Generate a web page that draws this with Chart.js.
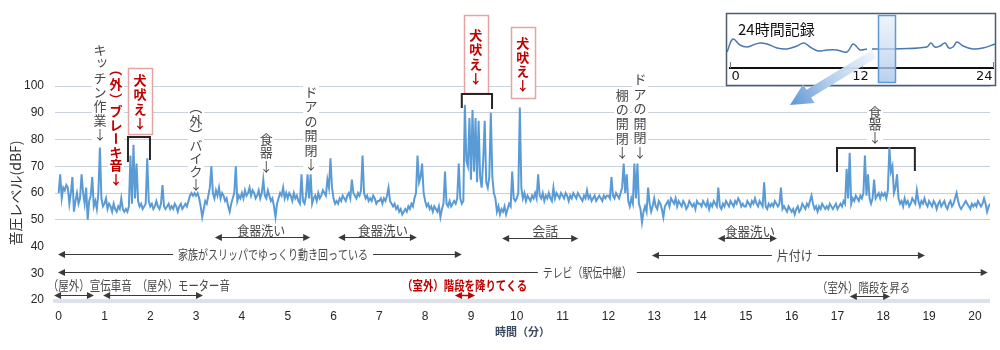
<!DOCTYPE html>
<html lang="ja">
<head>
<meta charset="utf-8">
<script src="https://cdn.jsdelivr.net/npm/chart.js@4.4.1/dist/chart.umd.min.js"></script>
<style>
  html, body { margin: 0; padding: 0; background: #fff; width: 1000px; height: 350px; overflow: hidden; }
  #wrap { position: relative; width: 1000px; height: 350px; }
  #main { position: absolute; left: 0; top: 0; }
  #day { position: absolute; left: 720px; top: 0; }
</style>
</head>
<body>
<div id="wrap">
  <canvas id="main" width="1000" height="350"></canvas>
  <canvas id="day" width="280" height="115"></canvas>
</div>
<script>
// Sound level readings, one every 2 seconds (30 per minute)
const SAMPLE_SECONDS = 2;
const levelDb = [
  // 0 min
  60, 67, 58, 62, 61, 63, 62, 56, 60, 66, 53, 57, 60, 56, 58, 67, 60, 56, 62, 50, 57, 59, 66, 55, 57, 54, 60, 77, 58, 55,
  // 1 min
  56, 58, 54, 56, 55, 53, 56, 54, 53, 55, 54, 58, 54, 53, 54, 53, 55, 74, 56, 78, 58, 71, 57, 55, 56, 54, 55, 56, 73, 57,
  // 2 min
  55, 56, 54, 55, 57, 55, 54, 56, 63, 55, 54, 55, 56, 54, 55, 54, 56, 55, 53, 55, 56, 54, 55, 56, 55, 57, 59, 60, 59, 60,
  // 3 min
  59, 60, 58, 55, 51, 54, 57, 56, 59, 62, 70, 60, 58, 61, 59, 62, 58, 60, 59, 57, 58, 55, 53, 56, 58, 60, 70, 57, 59, 58,
  // 4 min
  60, 58, 61, 59, 60, 62, 59, 61, 60, 58, 59, 61, 58, 60, 65, 59, 58, 61, 59, 57, 58, 55, 51, 56, 58, 60, 59, 62, 58, 60,
  // 5 min
  58, 60, 59, 57, 60, 58, 59, 57, 56, 67, 57, 56, 59, 67, 58, 67, 56, 58, 59, 57, 60, 58, 59, 61, 60, 59, 65, 62, 73, 62,
  // 6 min
  58, 56, 57, 56, 58, 57, 59, 58, 57, 59, 60, 58, 65, 60, 59, 58, 60, 59, 61, 74, 60, 58, 59, 57, 58, 57, 59, 58, 56, 57,
  // 7 min
  57, 58, 56, 58, 57, 59, 62, 57, 56, 55, 56, 54, 55, 53, 54, 52, 53, 54, 53, 55, 54, 56, 55, 58, 60, 74, 64, 66, 71, 60,
  // 8 min
  57, 55, 56, 54, 55, 53, 55, 54, 53, 55, 51, 54, 56, 68, 56, 55, 57, 55, 56, 57, 56, 58, 71, 58, 56, 57, 93, 72, 70, 88,
  // 9 min
  65, 91, 68, 88, 64, 87, 66, 62, 72, 87, 64, 62, 66, 90, 66, 60, 58, 53, 55, 52, 54, 53, 55, 52, 54, 56, 55, 68, 58, 57,
  // 10 min
  58, 60, 92, 62, 58, 60, 57, 59, 58, 57, 59, 58, 60, 58, 67, 59, 58, 60, 57, 59, 58, 60, 58, 57, 62, 58, 60, 59, 58, 60,
  // 11 min
  59, 58, 60, 59, 57, 59, 58, 60, 59, 58, 60, 59, 58, 57, 59, 58, 61, 58, 59, 57, 58, 59, 57, 58, 59, 58, 57, 59, 58, 59,
  // 12 min
  59, 58, 66, 59, 58, 60, 59, 58, 60, 62, 71, 60, 67, 57, 55, 58, 56, 71, 58, 71, 56, 54, 49, 53, 55, 53, 62, 56, 53, 55,
  // 13 min
  58, 55, 54, 57, 56, 54, 51, 55, 56, 57, 55, 58, 57, 56, 58, 55, 57, 56, 55, 57, 56, 54, 55, 57, 56, 55, 56, 54, 57, 56,
  // 14 min
  56, 55, 57, 56, 55, 57, 54, 56, 55, 57, 56, 55, 62, 55, 54, 56, 55, 57, 56, 55, 57, 56, 55, 57, 56, 58, 57, 55, 56, 55,
  // 15 min
  55, 57, 56, 55, 57, 56, 58, 56, 55, 57, 56, 55, 64, 55, 54, 56, 55, 56, 55, 57, 56, 55, 56, 62, 54, 55, 54, 53, 55, 54,
  // 16 min
  53, 54, 52, 54, 55, 53, 54, 56, 55, 54, 56, 55, 57, 59, 56, 54, 55, 53, 55, 54, 56, 55, 54, 55, 54, 56, 55, 54, 55, 56,
  // 17 min
  54, 55, 56, 55, 57, 56, 69, 58, 75, 56, 58, 57, 59, 58, 57, 59, 58, 60, 74, 59, 67, 58, 56, 58, 65, 58, 59, 60, 58, 60,
  // 18 min
  59, 60, 58, 61, 77, 68, 70, 60, 62, 67, 58, 56, 57, 55, 58, 56, 57, 55, 56, 58, 57, 56, 61, 57, 55, 57, 56, 58, 56, 55,
  // 19 min
  57, 56, 55, 57, 56, 54, 56, 57, 55, 56, 57, 55, 54, 56, 57, 55, 56, 58, 60, 57, 55, 54, 55, 56, 57, 56, 55, 54, 56, 55,
  // 20 min
  56, 55, 57, 56, 55, 56, 58, 56, 53, 55, 56
];
const minuteTicks = [0, 1, 2, 3, 4, 5, 6, 7, 8, 9, 10, 11, 12, 13, 14, 15, 16, 17, 18, 19, 20];
const dbTicks = [20, 30, 40, 50, 60, 70, 80, 90, 100];

// 24-hour overview (hour, level), morning and afternoon parts
const dayHoursAm  = [-0.27, 0.27, 0.91, 1.55, 2.1, 2.74, 3.38, 4.29, 5.2, 6.11, 6.75, 7.3, 8.03, 8.85, 9.76, 10.67, 11.22, 11.59, 11.86, 12.5];
const dayLevelsAm = [53, 66, 60, 58, 60, 62, 61, 57, 56, 59, 62, 58, 54, 55, 55, 53, 61, 58, 55, 56];
const dayHoursPm  = [12.96, 15.51, 17.97, 18.34, 18.7, 19.16, 19.62, 19.98, 20.35, 20.71, 21.26, 22.17, 23.08, 24.18];
const dayLevelsPm = [56, 56.3, 58, 62, 58, 59, 62, 57, 58, 63, 59, 56, 57, 61];
const dayTicks = [0, 12, 24];

const JP = '"Noto Sans CJK JP", "Noto Sans", sans-serif';
const GRAY = '#474747';
const RED = '#c00000';
const LINE = '#3a3a3a';

const seriesPoints = levelDb.map((v, i) => ({ x: i * SAMPLE_SECONDS / 60, y: v }));

// ---- annotation layout (x in minutes, y in dB) ----
const columns = [
  { m: 0.90,  db: 113.46, text: 'キッチン作業↓', step: 14 },
  { m: 1.25,  db: 105.6,  text: '（外）ブレーキ音↓', step: 13.5, red: true },
  { m: 3.00,  db: 91.4,   text: '（外）バイク↓', step: 13, paren: 0.92 },
  { m: 4.53,  db: 80.19,  text: '食器↓', step: 13.5 },
  { m: 5.51,  db: 97.76,  text: 'ドアの開閉↓', step: 14.4 },
  { m: 12.30, db: 96.64,  text: '棚の開閉↓', step: 14.25 },
  { m: 12.69, db: 102.62, text: 'ドアの開閉↓', step: 14.6 },
  { m: 17.82, db: 90.28,  text: '食器↓', step: 12.5 }
];
const barkBoxes = [
  { m: 1.775, db: 102.24, step: 14.3, left: 1.513, right: 2.037, top: 106.73, bottom: 82.06 },
  { m: 9.105, db: 119.07, step: 14.3, left: 8.84,  right: 9.37,  top: 126.54, bottom: 97.38 },
  { m: 10.13, db: 116.08, step: 14,   left: 9.87,  right: 10.40, top: 122.06, bottom: 95.52 }
];
const brackets = [
  { from: 1.513, to: 1.993, top: 80.93, leftEnd: 71.6,  rightEnd: 72.34 },
  { from: 8.80,  to: 9.46,  top: 97.01, leftEnd: 91.78, rightEnd: 91.4 },
  { from: 16.99, to: 18.69, top: 76.82, leftEnd: 67.85, rightEnd: 68.23 }
];
const spans = [
  { from: 3.41,  to: 5.49,  db: 43.55, text: '食器洗い', tm: 4.42, tdb: 46.2, width: 48 },
  { from: 6.10,  to: 7.82,  db: 43.55, text: '食器洗い', tm: 7.08, tdb: 46.2, width: 50 },
  { from: -0.015, to: 8.80, db: 37.2,  text: '家族がスリッパでゆっくり動き回っている', tm: 4.68, inline: true, width: 190 },
  { from: -0.015, to: 20.28, db: 30.47, text: 'テレビ（駅伝中継）', tm: 11.54, inline: true, width: 89 },
  { from: -0.10, to: 0.77,  db: 21.87, text: '（屋外）宣伝車音', tm: 0.68, tdb: 25.6, width: 84 },
  { from: 0.97,  to: 3.15,  db: 21.87, text: '（屋外）モーター音', tm: 2.72, tdb: 25.6, width: 93 },
  { from: 8.65,  to: 9.09,  db: 21.87, text: '（室外）階段を降りてくる', tm: 8.86, tdb: 25.6, width: 125, red: true },
  { from: 9.68,  to: 11.34, db: 43.2,  text: '会話', tm: 10.62, tdb: 45.6, width: 26 },
  { from: 14.39, to: 15.68, db: 43.2,  text: '食器洗い', tm: 15.09, tdb: 45.8, width: 50 },
  { from: 12.95, to: 18.91, db: 36.8,  text: '片付け', tm: 16.07, inline: true, width: 36 },
  { from: 17.27, to: 18.15, db: 21.5,  text: '（室外）階段を昇る', tm: 17.57, tdb: 24.86, width: 93 }
];

const SMALL_KANA = 'ッャュョァィゥェォっゃゅょ';
const ROTATED = '（）ー';
const isParen = c => c === '（' || c === '）';

function columnLayout(text, y0, step, paren) {
  const chars = Array.from(text);
  const ys = [];
  let y = y0;
  chars.forEach((c, i) => {
    ys.push(y);
    const next = chars[i + 1];
    y += (paren && (isParen(c) || (next && isParen(next)))) ? step * paren : step;
  });
  return { chars, ys };
}

// text written top to bottom; brackets and the long vowel mark are turned upright
function drawColumn(ctx, x, y0, text, o) {
  const { chars, ys } = columnLayout(text, y0, o.step, o.paren);
  if (o.background !== false) {
    ctx.fillStyle = '#fff';
    ctx.fillRect(x - 8, ys[0] - o.step * 0.55, 16, ys[ys.length - 1] - ys[0] + o.step * 1.1);
  }
  ctx.fillStyle = o.color;
  ctx.font = (o.bold ? 'bold ' : '') + '13px ' + JP;
  ctx.textAlign = 'center';
  ctx.textBaseline = 'middle';
  chars.forEach((c, i) => {
    if (ROTATED.includes(c)) {
      const shift = c === '（' ? -1.5 : (c === '）' ? 1.5 : 0);
      ctx.save();
      ctx.translate(x, ys[i] + shift);
      ctx.rotate(Math.PI / 2);
      ctx.fillText(c, 0, 0);
      ctx.restore();
      return;
    }
    const small = SMALL_KANA.includes(c);
    ctx.fillText(c, x + (small ? 2 : 0), ys[i] + (small ? -3 : 0));
  });
}

function arrowHead(ctx, x, y, dir) {
  ctx.beginPath();
  ctx.moveTo(x, y);
  ctx.lineTo(x - dir * 7, y - 3.5);
  ctx.lineTo(x - dir * 7, y + 3.5);
  ctx.closePath();
  ctx.fill();
}

const notesPlugin = {
  id: 'notes',
  beforeDatasetsDraw(chart) {
    const { ctx, chartArea, scales } = chart;
    const X = m => scales.x.getPixelForValue(m);
    const Y = d => scales.y.getPixelForValue(d);
    ctx.save();

    // baseline band at 20 dB
    ctx.fillStyle = '#dde2ea';
    ctx.fillRect(chartArea.left - 2, Y(20) - 1, chartArea.right - chartArea.left + 2, 4);

    // event labels written top to bottom
    columns.forEach(c => drawColumn(ctx, X(c.m), Y(c.db), c.text,
      { step: c.step, paren: c.paren, color: c.red ? RED : GRAY, bold: !!c.red }));

    // boxed "犬吠え" labels
    barkBoxes.forEach(b => {
      const l = X(b.left), r = X(b.right), t = Y(b.top), bt = Y(b.bottom);
      ctx.fillStyle = '#fff';
      ctx.fillRect(l, t, r - l, bt - t);
      ctx.strokeStyle = '#e6a4a4';
      ctx.lineWidth = 1.5;
      ctx.strokeRect(Math.round(l) + 0.5, Math.round(t) + 0.5, Math.round(r - l), Math.round(bt - t));
      drawColumn(ctx, X(b.m), Y(b.db), '犬吠え↓', { step: b.step, color: RED, bold: true, background: false });
    });

    // brackets over grouped peaks
    ctx.strokeStyle = '#262626';
    ctx.lineWidth = 2;
    brackets.forEach(b => {
      ctx.beginPath();
      ctx.moveTo(X(b.from), Y(b.leftEnd));
      ctx.lineTo(X(b.from), Y(b.top));
      ctx.lineTo(X(b.to), Y(b.top));
      ctx.lineTo(X(b.to), Y(b.rightEnd));
      ctx.stroke();
    });

    // duration arrows with labels
    spans.forEach(s => {
      const color = s.red ? RED : LINE;
      const x1 = X(s.from), x2 = X(s.to), y = Math.round(Y(s.db)) + 0.5;
      ctx.strokeStyle = color;
      ctx.fillStyle = color;
      ctx.lineWidth = s.red ? 1.5 : 1;
      ctx.beginPath();
      ctx.moveTo(x1 + 5, y);
      ctx.lineTo(x2 - 5, y);
      ctx.stroke();
      arrowHead(ctx, x1, y, -1);
      arrowHead(ctx, x2, y, 1);

      const tx = X(s.tm);
      const ty = s.inline ? y : Y(s.tdb);
      if (s.inline) {
        ctx.fillStyle = '#fff';
        ctx.fillRect(tx - s.width / 2 - 5, ty - 8, s.width + 10, 16);
      }
      ctx.fillStyle = s.red ? RED : GRAY;
      ctx.font = (s.red ? 'bold ' : '') + '13px ' + JP;
      ctx.textAlign = 'center';
      ctx.textBaseline = 'middle';
      ctx.fillText(s.text, tx, ty, s.width);
    });

    ctx.restore();
  }
};

new Chart(document.getElementById('main'), {
  type: 'line',
  data: {
    datasets: [{
      data: seriesPoints,
      borderColor: '#5b9bd5',
      borderWidth: 2,
      pointRadius: 0,
      tension: 0,
      fill: false
    }]
  },
  options: {
    responsive: false,
    animation: false,
    devicePixelRatio: 1,
    layout: { padding: { top: 86, right: 10, left: 0, bottom: 0 } },
    plugins: { legend: { display: false }, tooltip: { enabled: false } },
    scales: {
      x: {
        type: 'linear',
        min: -0.08,
        max: 20.33,
        afterBuildTicks: s => { s.ticks = minuteTicks.map(v => ({ value: v })); },
        afterFit: s => { s.height = 50; },
        grid: { display: false, drawTicks: false },
        border: { display: false },
        ticks: {
          padding: 9,
          autoSkip: false,
          maxRotation: 0,
          color: '#262626',
          font: { family: '"Liberation Sans", Arial, sans-serif', size: 12 }
        },
        title: {
          display: true,
          text: '時間（分）',
          color: '#3d4b5f',
          font: { family: JP, size: 11, weight: 'bold' },
          padding: { top: 0, bottom: 12 }
        }
      },
      y: {
        min: 20,
        max: 100,
        afterBuildTicks: s => { s.ticks = dbTicks.map(v => ({ value: v })); },
        afterFit: s => { s.width = 55; },
        grid: {
          drawTicks: false,
          lineWidth: 1,
          color: c => (c.tick && c.tick.value >= 50) ? '#c8d0dd' : 'rgba(0,0,0,0)'
        },
        border: { display: false },
        ticks: {
          padding: 11,
          color: '#262626',
          font: { family: '"Liberation Sans", Arial, sans-serif', size: 12 }
        },
        title: {
          display: true,
          text: '音圧レベル(dBF)',
          color: '#333',
          font: { family: JP, size: 14 },
          padding: { top: 7, bottom: 0 }
        }
      }
    }
  },
  plugins: [notesPlugin]
});

// ---- 24-hour overview panel ----
const dayPanel = {
  id: 'dayPanel',
  beforeDraw(chart) {
    const ctx = chart.ctx;
    ctx.save();
    ctx.fillStyle = '#fff';
    ctx.fillRect(6, 13, 270, 73);
    ctx.strokeStyle = '#4e5b70';
    ctx.lineWidth = 1.5;
    ctx.strokeRect(6.5, 13.5, 269, 72);
    ctx.restore();
  },
  afterDraw(chart) {
    const { ctx, scales: { x } } = chart;
    ctx.save();

    // title
    ctx.fillStyle = '#111';
    ctx.font = '15px ' + JP;
    ctx.textAlign = 'left';
    ctx.textBaseline = 'middle';
    ctx.fillText('24時間記録', 18, 29);

    // time axis
    const axisY = 68;
    ctx.strokeStyle = '#111';
    ctx.lineWidth = 2;
    ctx.beginPath();
    ctx.moveTo(x.getPixelForValue(0) - 1, axisY);
    ctx.lineTo(x.getPixelForValue(24) + 1, axisY);
    ctx.stroke();
    ctx.strokeStyle = '#7a7a7a';
    ctx.lineWidth = 1;
    ctx.font = '13px "DejaVu Sans", sans-serif';
    ctx.fillStyle = '#111';
    dayTicks.forEach((h, i) => {
      const px = Math.round(x.getPixelForValue(h)) + 0.5;
      ctx.beginPath();
      ctx.moveTo(px, axisY - 6);
      ctx.lineTo(px, axisY);
      ctx.stroke();
      ctx.textAlign = i === 0 ? 'left' : (i === dayTicks.length - 1 ? 'right' : 'center');
      const off = i === 0 ? 1 : (i === dayTicks.length - 1 ? -1 : -2);
      ctx.fillText(String(h), px + off, 77);
    });

    // highlighted window
    const hl = x.getPixelForValue(13.5), hr = x.getPixelForValue(15.05);
    const g = ctx.createLinearGradient(0, 15, 0, 83);
    g.addColorStop(0, 'rgba(222,234,247,0.55)');
    g.addColorStop(1, 'rgba(170,200,235,0.85)');
    ctx.fillStyle = g;
    ctx.fillRect(hl, 15, hr - hl, 68);
    ctx.strokeStyle = '#5b9bd5';
    ctx.lineWidth = 1.5;
    ctx.strokeRect(Math.round(hl) + 0.5, 15.5, Math.round(hr - hl), 67);

    // pointer arrow toward the main chart
    const tail = { x: hl - 4, y: 54 }, tip = { x: 70, y: 105 };
    const dx = tip.x - tail.x, dy = tip.y - tail.y, len = Math.hypot(dx, dy);
    const ux = dx / len, uy = dy / len, nx = -uy, ny = ux;
    const headLen = 22, headHalf = 11, shaftHalf = 4.5;
    const neck = { x: tip.x - ux * headLen, y: tip.y - uy * headLen };
    const ag = ctx.createLinearGradient(tail.x, tail.y, tip.x, tip.y);
    ag.addColorStop(0, 'rgba(235,243,251,0.9)');
    ag.addColorStop(0.55, '#b3cdeb');
    ag.addColorStop(1, '#5f96d4');
    ctx.fillStyle = ag;
    ctx.beginPath();
    ctx.moveTo(tail.x + nx * shaftHalf, tail.y + ny * shaftHalf);
    ctx.lineTo(neck.x + nx * shaftHalf, neck.y + ny * shaftHalf);
    ctx.lineTo(neck.x + nx * headHalf, neck.y + ny * headHalf);
    ctx.lineTo(tip.x, tip.y);
    ctx.lineTo(neck.x - nx * headHalf, neck.y - ny * headHalf);
    ctx.lineTo(neck.x - nx * shaftHalf, neck.y - ny * shaftHalf);
    ctx.lineTo(tail.x - nx * shaftHalf, tail.y - ny * shaftHalf);
    ctx.closePath();
    ctx.fill();

    ctx.restore();
  }
};

const dayLine = { borderColor: '#4a78b0', borderWidth: 1.5, pointRadius: 0, tension: 0.4, fill: false, clip: false };
new Chart(document.getElementById('day'), {
  type: 'line',
  data: {
    datasets: [
      Object.assign({ data: dayHoursAm.map((h, i) => ({ x: h, y: dayLevelsAm[i] })) }, dayLine),
      Object.assign({ data: dayHoursPm.map((h, i) => ({ x: h, y: dayLevelsPm[i] })) }, dayLine)
    ]
  },
  options: {
    responsive: false,
    animation: false,
    devicePixelRatio: 1,
    layout: { padding: { left: 10, right: 7, top: 35, bottom: 50 } },
    plugins: { legend: { display: false }, tooltip: { enabled: false } },
    scales: {
      x: { type: 'linear', display: false, min: 0, max: 24 },
      y: { display: false, min: 40, max: 70 }
    }
  },
  plugins: [dayPanel]
});
</script>
</body>
</html>
